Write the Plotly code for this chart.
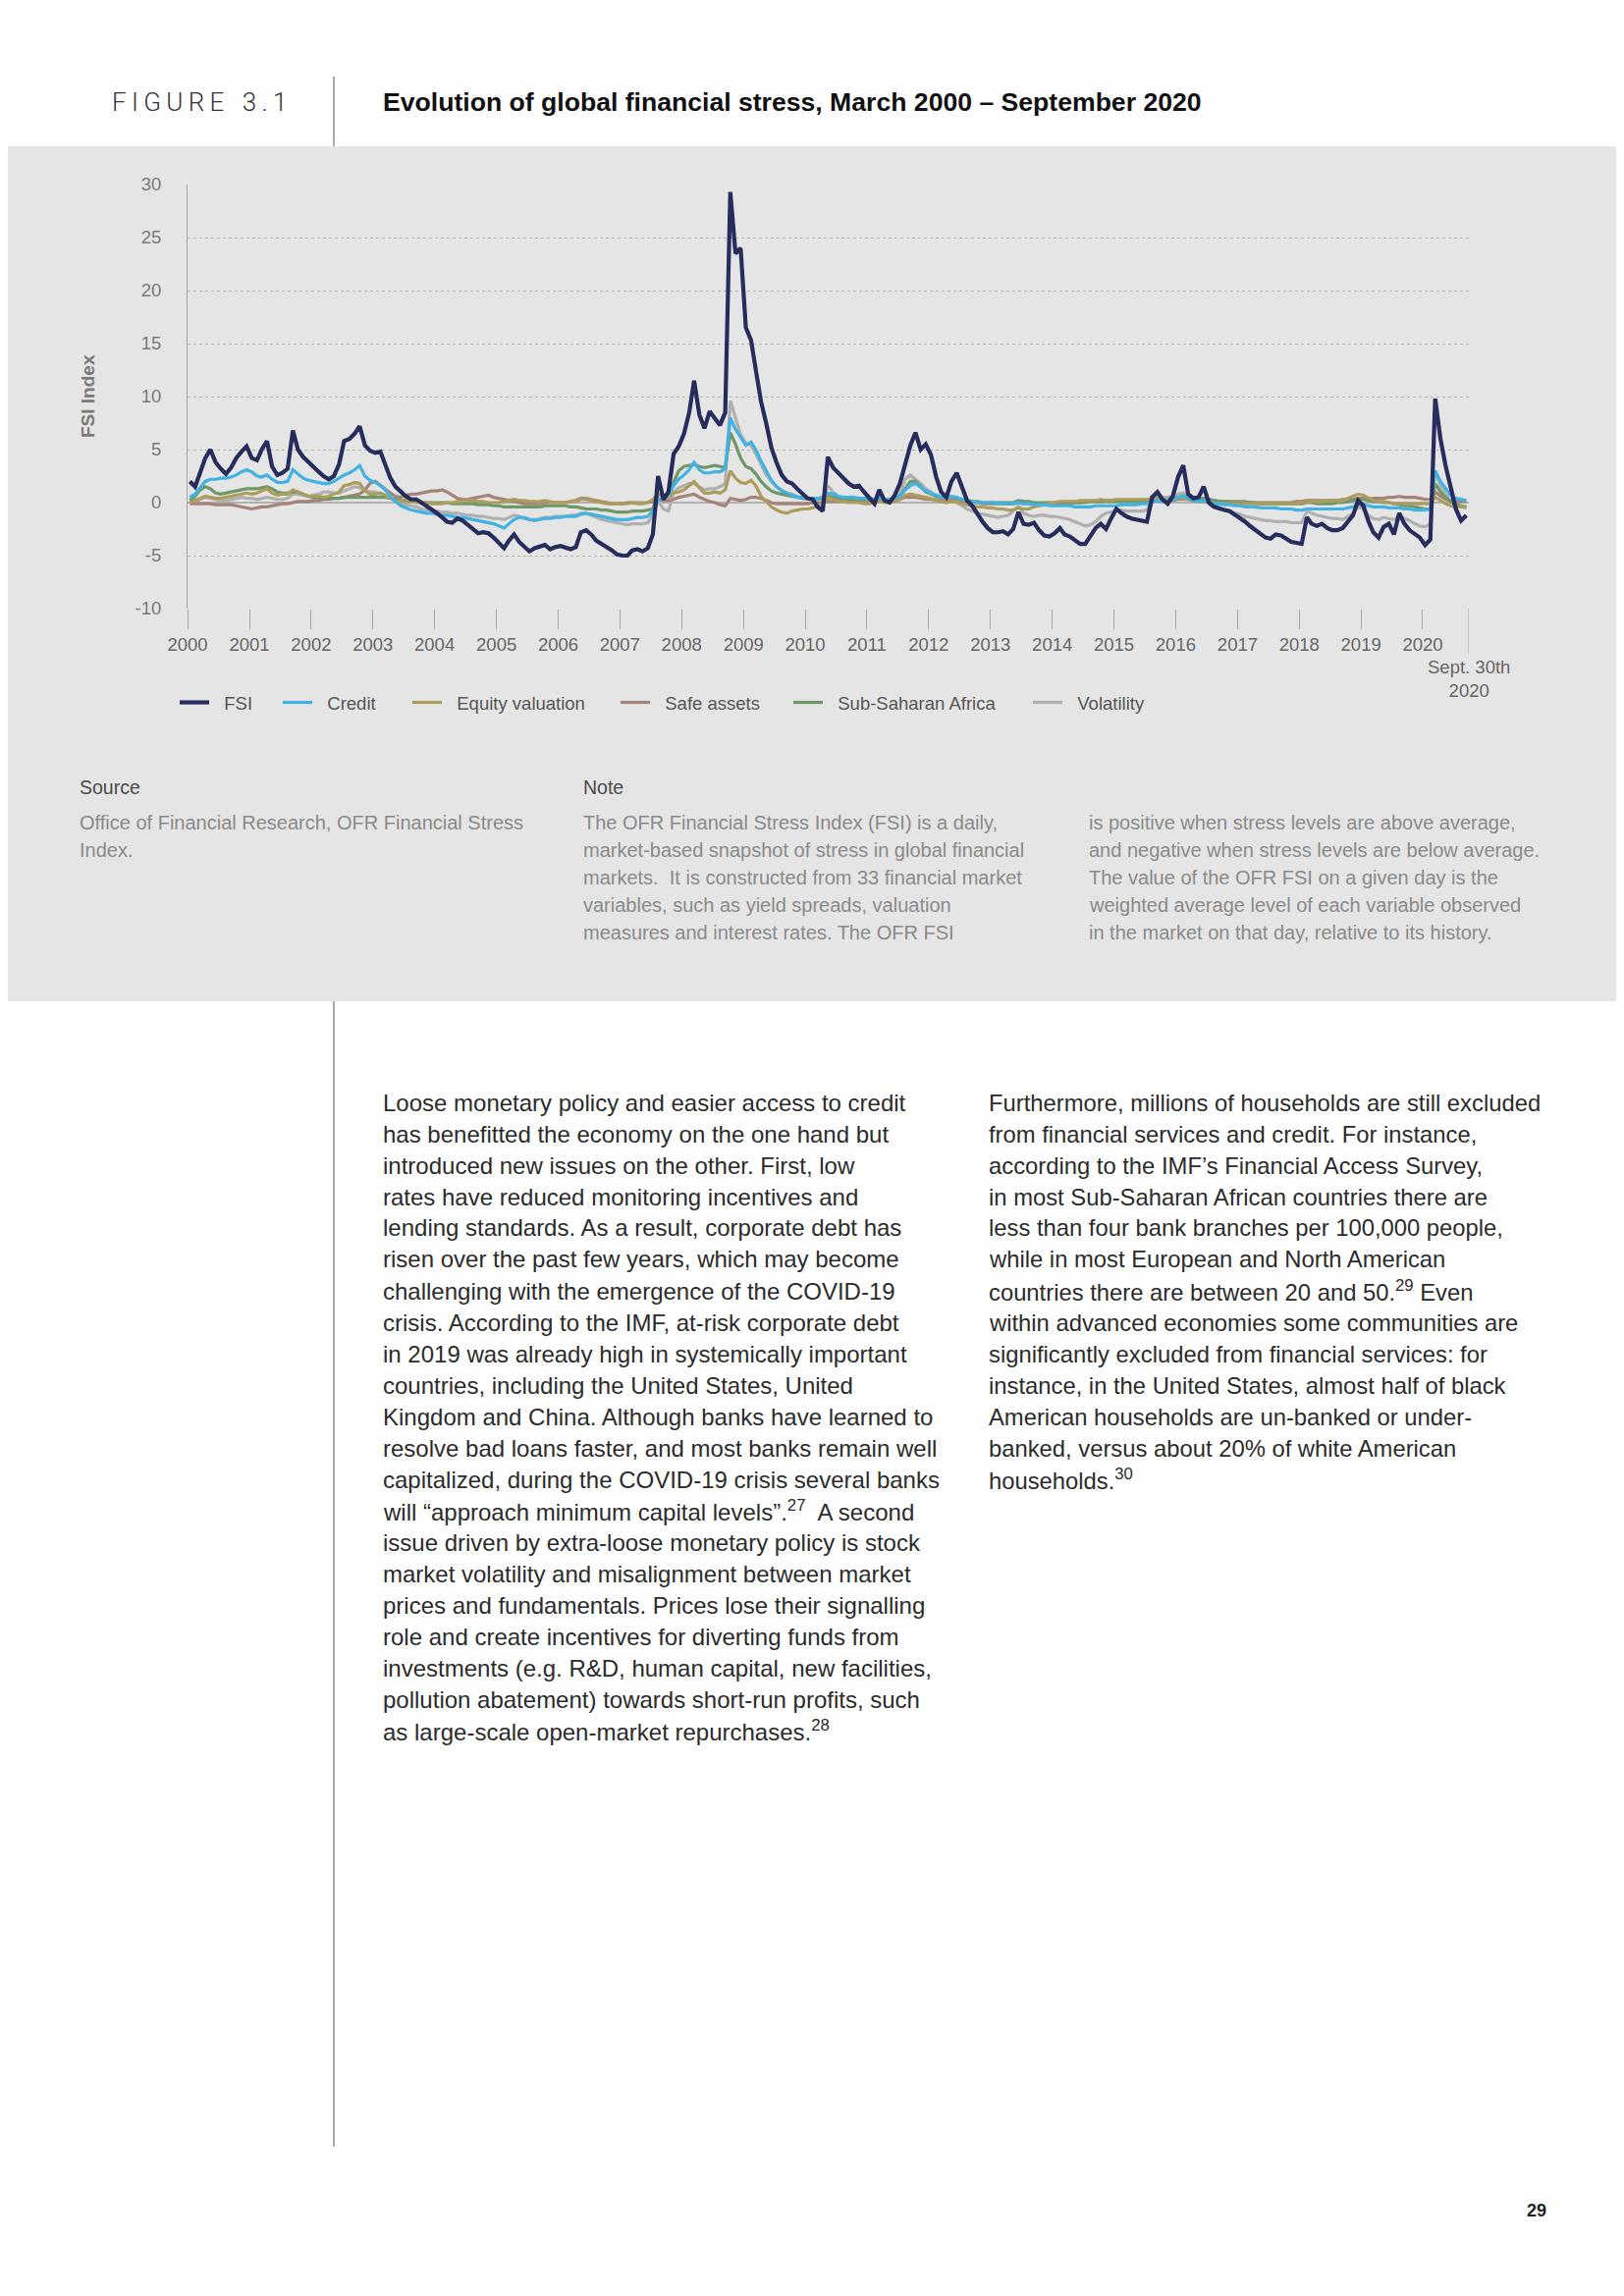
import plotly.graph_objects as go
import pandas as pd

W, H = 1654, 2339
OX, OY = 8, 8          # the page body sits 8 px in from the window corner
def px(x): return (x - OX) / W
def py(y): return 1 - (y - OY) / H

# ---------------- data (monthly readings, Jan 2000 - Sep 2020) ----------------
months = pd.date_range("2000-01-01", "2020-09-01", freq="MS") + pd.Timedelta(days=14)

fsi = [
    2.0, 1.5, 2.8, 4.2, 5.0, 3.8, 3.2, 2.7, 3.3, 4.2, 4.8, 5.3,
    4.2, 4.0, 5.0, 5.8, 3.4, 2.6, 2.8, 3.2, 6.8, 5.0, 4.3, 3.8,
    3.4, 2.9, 2.5, 2.2, 2.5, 3.6, 5.8, 6.0, 6.5, 7.2, 5.4, 4.9,
    4.7, 4.8, 3.6, 2.3, 1.5, 1.0, 0.6, 0.3, 0.3, 0.0, -0.3, -0.6,
    -1.0, -1.4, -1.8, -1.9, -1.5, -1.7, -2.1, -2.5, -2.9, -2.8, -2.9, -3.3,
    -3.8, -4.3, -3.6, -3.0, -3.7, -4.2, -4.6, -4.3, -4.1, -4.0, -4.4, -4.2,
    -4.1, -4.3, -4.4, -4.2, -2.8, -2.6, -3.0, -3.6, -3.9, -4.2, -4.5, -4.9,
    -5.0, -5.0, -4.5, -4.4, -4.6, -4.3, -3.0, 2.5, 0.3, 1.0, 4.6, 5.3,
    6.5, 8.5, 11.5, 8.3, 7.0, 8.6, 8.0, 7.3, 8.5, 29.3, 23.5, 24.0,
    16.5, 15.3, 12.5, 9.5, 7.5, 5.2, 3.8, 2.6, 2.0, 1.8, 1.3, 0.8,
    0.4, 0.3, -0.4, -0.8, 4.3, 3.3, 2.8, 2.3, 1.8, 1.5, 1.6, 1.0,
    0.5, -0.1, 1.2, 0.2, 0.0, 0.7, 1.8, 3.8, 5.4, 6.6, 5.0, 5.5,
    4.5, 2.4, 1.0, 0.5, 2.0, 2.8, 1.4, 0.2, -0.3, -1.1, -1.8, -2.4,
    -2.8, -2.8, -2.7, -3.0, -2.5, -0.9, -2.0, -2.1, -1.9, -2.6, -3.1, -3.2,
    -2.9, -2.4, -3.0, -3.2, -3.5, -3.9, -3.9, -3.2, -2.4, -2.0, -2.5, -1.5,
    -0.6, -1.0, -1.3, -1.5, -1.6, -1.7, -1.8, 0.5, 1.0, 0.3, -0.1, 0.6,
    2.4, 3.5, 0.8, 0.4, 0.5, 1.5, 0.0, -0.4, -0.6, -0.7, -0.8, -1.1,
    -1.5, -1.8, -2.2, -2.6, -3.0, -3.3, -3.4, -3.0, -3.1, -3.4, -3.7, -3.8,
    -3.9, -1.4, -2.0, -2.2, -2.0, -2.4, -2.6, -2.6, -2.4, -1.8, -1.2, 0.2,
    -0.3, -1.8, -2.8, -3.3, -2.3, -2.0, -3.0, -1.0, -2.0, -2.6, -3.0, -3.3,
    -4.0, -3.5, 9.8, 6.0, 3.5, 1.2, -0.6, -1.7, -1.2,
]

credit = [
    0.5, 0.8, 1.4, 2.0, 2.2, 2.2, 2.3, 2.3, 2.4, 2.6, 2.9, 3.1,
    2.9, 2.5, 2.4, 2.6, 2.2, 1.9, 1.9, 2.0, 3.1, 2.7, 2.3, 2.1,
    2.0, 1.9, 1.8, 1.8, 2.0, 2.3, 2.6, 2.8, 3.1, 3.5, 2.5, 2.1,
    1.9, 1.6, 1.2, 0.6, 0.1, -0.3, -0.5, -0.7, -0.8, -0.9, -1.0, -1.0,
    -1.1, -1.2, -1.2, -1.3, -1.4, -1.4, -1.5, -1.6, -1.7, -1.8, -1.9, -2.0,
    -2.2, -2.4, -2.0, -1.6, -1.4, -1.4, -1.6, -1.7, -1.6, -1.5, -1.5, -1.4,
    -1.4, -1.3, -1.3, -1.3, -1.1, -1.0, -1.1, -1.2, -1.3, -1.4, -1.5, -1.6,
    -1.6, -1.6, -1.5, -1.4, -1.4, -1.3, -0.8, 0.3, 0.4, 0.7, 1.6, 2.2,
    2.6, 3.1, 3.8, 3.1, 2.8, 2.8, 2.9, 2.9, 3.2, 8.0, 6.9, 6.2,
    5.4, 5.7, 5.0, 3.9, 3.0, 2.1, 1.5, 1.1, 0.9, 0.7, 0.5, 0.5,
    0.4, 0.4, 0.4, 0.5, 0.9, 0.8, 0.6, 0.5, 0.5, 0.5, 0.4, 0.4,
    0.4, 0.3, 0.4, 0.3, 0.3, 0.4, 0.6, 1.2, 1.6, 1.8, 1.4, 1.1,
    0.9, 0.7, 0.5, 0.5, 0.6, 0.5, 0.3, 0.2, 0.1, 0.0, 0.0, 0.0,
    0.0, -0.1, -0.1, -0.1, -0.1, 0.0, -0.1, -0.1, -0.2, -0.2, -0.2, -0.3,
    -0.3, -0.3, -0.3, -0.3, -0.4, -0.4, -0.4, -0.4, -0.3, -0.3, -0.3, -0.3,
    -0.3, -0.2, -0.2, -0.2, -0.2, -0.1, -0.1, 0.1, 0.2, 0.1, 0.2, 0.3,
    0.5, 0.6, 0.4, 0.2, 0.1, 0.2, 0.0, -0.1, -0.1, -0.2, -0.2, -0.3,
    -0.3, -0.4, -0.4, -0.4, -0.5, -0.5, -0.5, -0.5, -0.6, -0.6, -0.6, -0.7,
    -0.7, -0.6, -0.6, -0.6, -0.6, -0.6, -0.6, -0.6, -0.6, -0.5, -0.4, -0.2,
    -0.2, -0.3, -0.4, -0.4, -0.4, -0.5, -0.5, -0.5, -0.6, -0.6, -0.7, -0.7,
    -0.7, -0.6, 3.0, 2.0, 1.3, 0.7, 0.4, 0.3, 0.2,
]

equity = [
    0.0, 0.2, 0.4, 0.6, 0.5, 0.4, 0.4, 0.5, 0.6, 0.7, 0.8, 0.9,
    0.8, 0.9, 1.1, 1.3, 0.9, 0.7, 0.8, 0.8, 1.2, 1.0, 0.8, 0.6,
    0.6, 0.6, 0.5, 0.6, 0.8, 1.0, 1.6, 1.7, 1.9, 1.8, 1.1, 0.8,
    0.8, 0.9, 0.7, 0.4, 0.2, 0.1, 0.1, 0.1, 0.0, 0.0, 0.0, -0.1,
    -0.1, -0.1, 0.0, 0.0, 0.1, 0.1, 0.2, 0.2, 0.1, 0.1, 0.0, 0.0,
    0.0, 0.1, 0.2, 0.3, 0.2, 0.2, 0.1, 0.1, 0.1, 0.2, 0.1, 0.0,
    0.0, 0.0, 0.1, 0.1, 0.3, 0.3, 0.2, 0.1, 0.0, -0.1, -0.1, -0.1,
    -0.1, -0.1, 0.0, -0.1, -0.1, 0.0, 0.3, 0.8, 0.6, 0.5, 0.9, 1.0,
    1.2, 1.6, 2.0, 1.4, 0.9, 0.9, 1.0, 0.9, 1.2, 3.0, 2.3, 1.9,
    1.8, 2.1, 1.6, 0.6, 0.1, -0.4, -0.7, -0.9, -1.0, -0.8, -0.7, -0.6,
    -0.6, -0.5, -0.4, -0.2, 0.5, 0.3, 0.1, 0.1, 0.0, 0.0, 0.0, -0.1,
    -0.1, 0.0, 0.1, 0.0, 0.0, 0.1, 0.3, 0.7, 0.8, 0.7, 0.6, 0.5,
    0.4, 0.2, 0.1, 0.0, 0.1, 0.1, -0.1, -0.2, -0.3, -0.4, -0.4, -0.5,
    -0.5, -0.6, -0.6, -0.7, -0.7, -0.5, -0.6, -0.6, -0.4, -0.3, -0.2, -0.1,
    0.0, 0.1, 0.1, 0.1, 0.1, 0.2, 0.2, 0.2, 0.2, 0.3, 0.2, 0.2,
    0.3, 0.3, 0.3, 0.3, 0.3, 0.3, 0.3, 0.4, 0.4, 0.3, 0.3, 0.3,
    0.4, 0.4, 0.3, 0.2, 0.1, 0.1, 0.0, -0.1, -0.1, -0.1, -0.1, -0.1,
    -0.1, -0.1, -0.1, -0.1, -0.1, -0.1, -0.1, -0.1, -0.1, -0.1, -0.1, -0.1,
    0.0, 0.1, 0.1, 0.1, 0.1, 0.2, 0.2, 0.2, 0.2, 0.4, 0.6, 0.8,
    0.7, 0.4, 0.2, 0.1, 0.1, 0.0, -0.1, -0.1, -0.1, -0.1, -0.1, -0.1,
    -0.1, -0.1, 0.5, 0.2, -0.1, -0.3, -0.4, -0.4, -0.4,
]

safe_assets = [
    -0.1, -0.1, -0.1, -0.1, -0.1, -0.2, -0.2, -0.2, -0.2, -0.3, -0.4, -0.5,
    -0.6, -0.5, -0.4, -0.4, -0.3, -0.2, -0.1, -0.1, 0.0, 0.1, 0.1, 0.1,
    0.2, 0.2, 0.3, 0.3, 0.4, 0.4, 0.5, 0.6, 0.7, 0.8, 1.2, 1.8,
    2.0, 1.6, 1.3, 0.9, 0.6, 0.5, 0.7, 0.8, 0.8, 0.9, 1.0, 1.1,
    1.1, 1.2, 1.0, 0.7, 0.4, 0.3, 0.3, 0.4, 0.5, 0.6, 0.7, 0.5,
    0.4, 0.3, 0.2, 0.1, 0.0, -0.1, -0.1, -0.1, -0.1, 0.0, 0.0, 0.0,
    0.0, 0.0, 0.1, 0.2, 0.4, 0.4, 0.3, 0.2, 0.1, 0.0, -0.1, -0.1,
    -0.1, 0.0, 0.0, 0.0, 0.0, 0.0, 0.1, 0.3, 0.2, 0.2, 0.3, 0.5,
    0.6, 0.7, 0.8, 0.5, 0.3, 0.1, 0.0, -0.2, -0.3, 0.4, 0.3, 0.2,
    0.3, 0.5, 0.5, 0.4, 0.2, 0.0, -0.1, -0.1, -0.1, -0.1, -0.1, -0.1,
    -0.1, 0.0, 0.0, 0.0, 0.1, 0.1, 0.1, 0.1, 0.1, 0.1, 0.1, 0.1,
    0.1, 0.1, 0.1, 0.2, 0.2, 0.2, 0.3, 0.5, 0.5, 0.5, 0.4, 0.3,
    0.3, 0.2, 0.2, 0.2, 0.2, 0.1, 0.1, 0.0, 0.0, 0.0, -0.1, -0.1,
    -0.1, -0.1, -0.1, -0.1, -0.1, 0.0, -0.1, -0.1, -0.1, -0.1, -0.1, -0.1,
    -0.1, -0.1, -0.1, -0.1, 0.0, 0.0, 0.1, 0.1, 0.1, 0.1, 0.2, 0.2,
    0.2, 0.2, 0.2, 0.2, 0.2, 0.2, 0.2, 0.3, 0.3, 0.2, 0.2, 0.2,
    0.3, 0.3, 0.3, 0.2, 0.2, 0.4, 0.3, 0.2, 0.1, 0.1, 0.1, 0.1,
    0.1, 0.1, 0.0, 0.0, 0.0, 0.0, 0.0, 0.0, 0.0, 0.0, 0.0, 0.1,
    0.1, 0.2, 0.2, 0.2, 0.2, 0.2, 0.2, 0.2, 0.3, 0.3, 0.3, 0.4,
    0.4, 0.3, 0.4, 0.4, 0.4, 0.5, 0.5, 0.6, 0.5, 0.5, 0.5, 0.4,
    0.3, 0.3, 1.0, 0.6, 0.3, 0.2, 0.1, 0.1, 0.1,
]

sub_saharan = [
    0.2, 0.6, 1.2, 1.5, 1.3, 0.9, 0.8, 0.9, 1.0, 1.1, 1.2, 1.3,
    1.3, 1.3, 1.4, 1.5, 1.3, 1.0, 0.9, 0.9, 1.0, 1.0, 0.8, 0.6,
    0.5, 0.5, 0.4, 0.4, 0.4, 0.4, 0.5, 0.5, 0.5, 0.5, 0.5, 0.5,
    0.5, 0.5, 0.5, 0.4, 0.3, 0.2, 0.2, 0.1, 0.1, 0.0, 0.0, 0.0,
    0.0, 0.0, 0.0, -0.1, -0.1, -0.1, -0.1, -0.1, -0.2, -0.2, -0.2, -0.3,
    -0.3, -0.4, -0.4, -0.4, -0.4, -0.4, -0.4, -0.4, -0.4, -0.3, -0.3, -0.3,
    -0.3, -0.3, -0.4, -0.4, -0.5, -0.6, -0.6, -0.6, -0.7, -0.7, -0.8, -0.9,
    -0.9, -0.9, -0.8, -0.8, -0.8, -0.7, -0.6, 0.8, 0.6, 0.8, 2.0, 3.0,
    3.4, 3.5, 3.6, 3.4, 3.3, 3.4, 3.5, 3.4, 3.3, 6.6, 5.5, 4.2,
    3.4, 3.2, 2.7, 2.0, 1.5, 1.1, 0.9, 0.8, 0.7, 0.6, 0.5, 0.4,
    0.4, 0.4, 0.4, 0.4, 0.6, 0.5, 0.4, 0.4, 0.3, 0.3, 0.3, 0.3,
    0.3, 0.3, 0.4, 0.3, 0.3, 0.4, 0.6, 1.3, 2.0, 2.0, 1.5, 1.0,
    0.8, 0.6, 0.5, 0.5, 0.5, 0.4, 0.3, 0.2, 0.1, 0.1, 0.0, 0.0,
    0.0, 0.0, 0.0, 0.0, 0.0, 0.2, 0.1, 0.1, 0.0, 0.0, 0.0, 0.0,
    0.0, 0.0, 0.0, 0.0, 0.0, 0.0, 0.0, 0.1, 0.1, 0.1, 0.1, 0.1,
    0.1, 0.1, 0.1, 0.1, 0.1, 0.1, 0.1, 0.2, 0.2, 0.2, 0.2, 0.3,
    0.5, 0.6, 0.4, 0.3, 0.3, 0.4, 0.3, 0.2, 0.1, 0.1, 0.0, 0.0,
    0.0, 0.0, 0.0, 0.0, -0.1, -0.1, -0.1, -0.1, -0.1, -0.1, -0.1, -0.1,
    -0.1, 0.0, 0.0, -0.1, -0.1, -0.1, -0.1, 0.0, 0.0, 0.1, 0.2, 0.3,
    0.3, 0.2, 0.1, 0.1, 0.0, 0.0, -0.1, -0.2, -0.3, -0.3, -0.4, -0.5,
    -0.6, -0.6, 1.8, 1.0, 0.5, 0.1, -0.2, -0.3, -0.4,
]

volatility = [
    -0.1, 0.1, 0.3, 0.5, 0.4, 0.3, 0.2, 0.2, 0.3, 0.4, 0.5, 0.4,
    0.4, 0.3, 0.4, 0.5, 0.4, 0.3, 0.3, 0.4, 0.8, 0.8, 0.7, 0.6,
    0.7, 0.8, 1.0, 1.0, 0.9, 0.9, 1.1, 1.3, 1.5, 1.4, 1.2, 1.0,
    1.0, 0.8, 0.6, 0.4, 0.2, 0.0, -0.2, -0.3, -0.4, -0.6, -0.7, -0.7,
    -0.8, -0.9, -0.9, -1.0, -1.0, -1.1, -1.2, -1.2, -1.3, -1.3, -1.4, -1.5,
    -1.5, -1.6, -1.4, -1.2, -1.3, -1.5, -1.6, -1.6, -1.5, -1.4, -1.4, -1.3,
    -1.3, -1.3, -1.2, -1.2, -1.0, -1.0, -1.2, -1.4, -1.6, -1.7, -1.8, -1.9,
    -2.0, -2.1, -2.0, -2.0, -2.0, -1.9, -1.2, 0.2, -0.6, -0.8, 1.0, 1.4,
    1.6, 1.8, 1.8, 1.5, 1.2, 1.3, 1.3, 1.5, 1.8, 9.6, 8.0, 6.4,
    5.6, 5.4, 4.6, 3.5, 2.6, 2.0, 1.5, 1.2, 0.9, 0.8, 0.6, 0.4,
    0.3, 0.3, 0.3, 0.3, 1.6, 1.0, 0.6, 0.4, 0.4, 0.3, 0.3, 0.3,
    0.3, 0.3, 0.5, 0.3, 0.3, 0.4, 0.8, 2.2, 2.6, 2.2, 1.8, 1.3,
    1.0, 0.5, 0.2, 0.1, 0.1, 0.0, -0.3, -0.6, -0.8, -1.0, -1.1, -1.2,
    -1.3, -1.4, -1.3, -1.2, -0.8, -0.3, -1.0, -1.2, -1.3, -1.2, -1.2, -1.3,
    -1.3, -1.4, -1.5, -1.6, -1.8, -2.0, -2.2, -2.1, -1.8, -1.3, -1.0, -0.9,
    -0.7, -0.7, -0.8, -0.8, -0.8, -0.8, -0.7, 0.4, 0.6, 0.5, 0.5, 0.6,
    0.8, 0.9, 0.6, 0.3, 0.1, 0.3, -0.1, -0.4, -0.6, -0.7, -0.8, -1.0,
    -1.1, -1.3, -1.4, -1.5, -1.6, -1.7, -1.7, -1.8, -1.8, -1.8, -1.9, -1.9,
    -1.9, -0.8, -1.0, -1.2, -1.3, -1.4, -1.5, -1.5, -1.6, -1.3, -1.0, -0.4,
    -0.6, -1.2, -1.5, -1.6, -1.4, -1.5, -1.6, -1.3, -1.5, -1.7, -2.0, -2.2,
    -2.3, -2.0, 3.0, 1.6, 0.8, 0.2, -0.2, -0.4, -0.5,
]

series_names = ["FSI", "Credit", "Equity valuation", "Safe assets", "Sub-Saharan Africa", "Volatility"]
series_values = [fsi, credit, equity, safe_assets, sub_saharan, volatility]
series_colors = ["#262c5c", "#40b2e4", "#ad9d5c", "#a6837a", "#6e9868", "#b0b0b0"]
series_widths = [4.2, 3.2, 3.2, 3.2, 3.2, 3.2]
legend_line_x = [183, 288, 420, 632, 808, 1052]   # pixel x where each legend swatch begins

year_ticks = list(range(2000, 2021))
y_ticks = [-10, -5, 0, 5, 10, 15, 20, 25, 30]
end_date = "2020-09-30"

for v in series_values:
    assert len(v) == len(months)

BODY = "Liberation Sans, Arial, sans-serif"
GAP = "\u00a0\u00a0"   # extra room between legend swatch and label

fig = go.Figure()

# draw order: background series first, FSI last (on top)
draw_order = [5, 3, 4, 2, 1, 0]
for i in draw_order:
    fig.add_trace(go.Scatter(
        x=months, y=series_values[i], mode="lines", name=GAP + series_names[i],
        line=dict(color=series_colors[i], width=series_widths[i]),
        legend="legend" if i == 0 else f"legend{i+1}",
        hoverinfo="skip",
    ))

# one single-entry legend per series to reproduce the spacing of the original
legend_common = dict(orientation="h", xanchor="left", yanchor="middle", y=py(716),
                     bgcolor="rgba(0,0,0,0)", borderwidth=0,
                     font=dict(family=BODY, size=18.5, color="#555555"))
legends = {}
for i in range(6):
    key = "legend" if i == 0 else f"legend{i+1}"
    legends[key] = dict(legend_common, x=px(legend_line_x[i] - 5))

annotations = []
def txt(x, y, s, size, color, anchor="left", weight=None, family=BODY, **kw):
    f = dict(size=size, color=color, family=family)
    if weight is not None:
        f["weight"] = weight
    annotations.append(dict(xref="paper", yref="paper", x=px(x), y=py(y), text=s,
                            showarrow=False, xanchor=anchor, yanchor="middle",
                            font=f, **kw))

# header
txt(112, 104, "F\u2009I\u2009G\u2009U\u2009R\u2009E\u2002\u20093\u2009.\u20091", 26, "#333333",
    weight=300, family="Roboto, Liberation Sans, sans-serif")
txt(388, 104, "Evolution of global financial stress, March 2000 \u2013 September 2020", 26.6,
    "#111111", weight="bold")

# axis title
annotations.append(dict(xref="paper", yref="paper", x=px(90), y=py(404), text="FSI Index",
                        showarrow=False, textangle=-90, xanchor="center", yanchor="middle",
                        font=dict(family=BODY, size=19, color="#7a7a7a", weight="bold")))
# end-of-data label
annotations.append(dict(xref="x", yref="paper", x=end_date, y=py(692),
                        text="Sept. 30th<br>2020", showarrow=False, xanchor="center",
                        yanchor="middle", font=dict(family=BODY, size=18.5, color="#666666")))

# source / note
txt(79, 802, "Source", 19.5, "#4a4a4a")
txt(592, 802, "Note", 19.5, "#4a4a4a")
source_lines = ["Office of Financial Research, OFR Financial Stress", "Index."]
note_lines_1 = ["The OFR Financial Stress Index (FSI) is a daily,",
                "market-based snapshot of stress in global financial",
                "markets.  It is constructed from 33 financial market",
                "variables, such as yield spreads, valuation",
                "measures and interest rates. The OFR FSI"]
note_lines_2 = ["is positive when stress levels are above average,",
                "and negative when stress levels are below average.",
                "The value of the OFR FSI on a given day is the",
                "weighted average level of each variable observed",
                "in the market on that day, relative to its history."]
NOTE_C = "#8a8a8a"
NOTE_S = 20
for k, s in enumerate(source_lines):
    txt(79, 838 + k * 28.1, s, NOTE_S, NOTE_C)
for k, s in enumerate(note_lines_1):
    txt(592, 838 + k * 28.1, s, NOTE_S, NOTE_C)
for k, s in enumerate(note_lines_2):
    txt(1107, 838 + k * 28.1, s, NOTE_S, NOTE_C)

# body text
body_col1 = [
    "Loose monetary policy and easier access to credit",
    "has benefitted the economy on the one hand but",
    "introduced new issues on the other. First, low",
    "rates have reduced monitoring incentives and",
    "lending standards. As a result, corporate debt has",
    "risen over the past few years, which may become",
    "challenging with the emergence of the COVID-19",
    "crisis. According to the IMF, at-risk corporate debt",
    "in 2019 was already high in systemically important",
    "countries, including the United States, United",
    "Kingdom and China. Although banks have learned to",
    "resolve bad loans faster, and most banks remain well",
    "capitalized, during the COVID-19 crisis several banks",
    "will \u201capproach minimum capital levels\u201d.<sup>27</sup>  A second",
    "issue driven by extra-loose monetary policy is stock",
    "market volatility and misalignment between market",
    "prices and fundamentals. Prices lose their signalling",
    "role and create incentives for diverting funds from",
    "investments (e.g. R&amp;D, human capital, new facilities,",
    "pollution abatement) towards short-run profits, such",
    "as large-scale open-market repurchases.<sup>28</sup>",
]
body_col2 = [
    "Furthermore, millions of households are still excluded",
    "from financial services and credit. For instance,",
    "according to the IMF\u2019s Financial Access Survey,",
    "in most Sub-Saharan African countries there are",
    "less than four bank branches per 100,000 people,",
    "while in most European and North American",
    "countries there are between 20 and 50.<sup>29</sup> Even",
    "within advanced economies some communities are",
    "significantly excluded from financial services: for",
    "instance, in the United States, almost half of black",
    "American households are un-banked or under-",
    "banked, versus about 20% of white American",
    "households.<sup>30</sup>",
]
for k, s in enumerate(body_col1):
    txt(388, 1123 + k * 32.0, s, 24, "#2b2b2b")
for k, s in enumerate(body_col2):
    txt(1005, 1123 + k * 32.0, s, 23.8, "#2b2b2b")

# page number
txt(1565, 2252, "29", 18, "#222222", anchor="center", weight="bold")

shapes = [
    dict(type="rect", xref="paper", yref="paper", x0=0, x1=1, y0=py(1020), y1=py(149),
         fillcolor="#e5e5e5", line=dict(width=0), layer="below"),
    dict(type="line", xref="paper", yref="paper", x0=px(340), x1=px(340), y0=py(78), y1=py(149),
         line=dict(color="#555555", width=1)),
    dict(type="line", xref="paper", yref="paper", x0=px(340), x1=px(340), y0=py(1020), y1=py(2187),
         line=dict(color="#555555", width=1)),
    dict(type="line", xref="x", yref="paper", x0=end_date, x1=end_date, y0=py(620), y1=py(666),
         line=dict(color="#a6a6a6", width=1)),
]

fig.update_layout(
    template="none",
    width=W, height=H, autosize=False,
    margin=dict(l=0, r=0, t=0, b=0, pad=0, autoexpand=False),
    paper_bgcolor="white", plot_bgcolor="rgba(0,0,0,0)",
    showlegend=True,
    xaxis=dict(
        type="date", domain=[px(191), px(1496)], range=["2000-01-01", end_date],
        tickvals=[f"{y}-01-01" for y in year_ticks], ticktext=[str(y) for y in year_ticks],
        ticks="outside", ticklen=20, tickwidth=1, tickcolor="#a6a6a6",
        showgrid=False, zeroline=False, showline=False, automargin=False,
        tickfont=dict(family=BODY, size=18.5, color="#666666"),
        fixedrange=True,
    ),
    yaxis=dict(
        domain=[py(620), py(188)], range=[-10, 30],
        tickvals=y_ticks, ticktext=[str(v) for v in y_ticks],
        showgrid=True, gridcolor="#b3b3b3", gridwidth=1, griddash="dot",
        zeroline=True, zerolinecolor="#b0b0b0", zerolinewidth=1.5,
        showline=True, linecolor="#a6a6a6", linewidth=1, automargin=False,
        ticks="", ticklabelstandoff=22,
        tickfont=dict(family=BODY, size=18.5, color="#7a7a7a"),
        fixedrange=True,
    ),
    annotations=annotations,
    shapes=shapes,
    **legends,
)

fig.write_html("out.html")
